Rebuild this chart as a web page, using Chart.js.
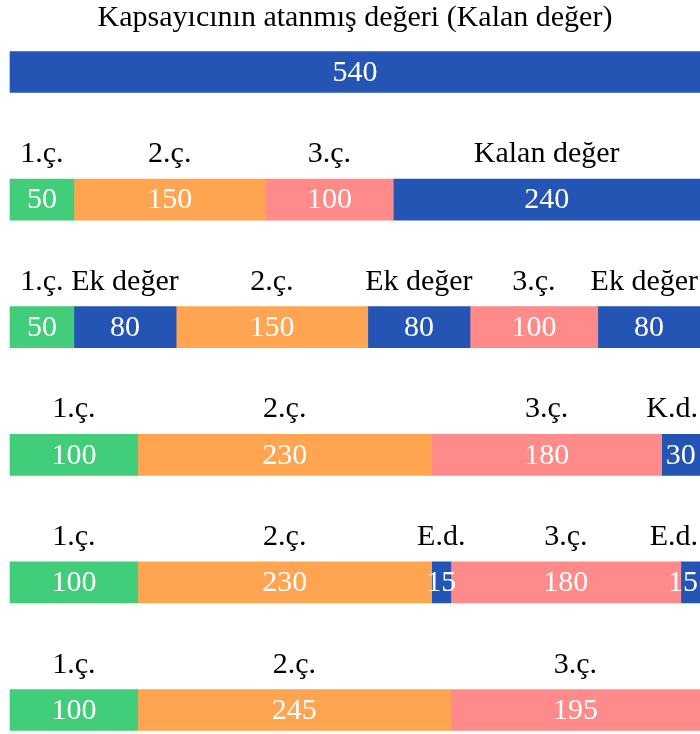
<!DOCTYPE html>
<html>
<head>
<meta charset="utf-8">
<script src="https://cdn.jsdelivr.net/npm/chart.js@4/dist/chart.umd.min.js"></script>
<style>
  html, body { margin: 0; padding: 0; background: #fff; }
  #wrap { width: 700px; height: 734px; }
</style>
</head>
<body>
<div id="wrap"><canvas id="alloc-chart"></canvas></div>
<script>
// Rows of the allocation, top to bottom; every row adds up to 540
const rowIds = ['r1', 'r2', 'r3', 'r4', 'r5', 'r6'];

const row1Values = [540];
const row2Values = [50, 150, 100, 240];
const row3Values = [50, 80, 150, 80, 100, 80];
const row4Values = [100, 230, 180, 30];
const row5Values = [100, 230, 15, 180, 15];
const row6Values = [100, 245, 195];

const row1Names = [''];
const row2Names = ['1.ç.', '2.ç.', '3.ç.', 'Kalan değer'];
const row3Names = ['1.ç.', 'Ek değer', '2.ç.', 'Ek değer', '3.ç.', 'Ek değer'];
const row4Names = ['1.ç.', '2.ç.', '3.ç.', 'K.d.'];
const row5Names = ['1.ç.', '2.ç.', 'E.d.', '3.ç.', 'E.d.'];
const row6Names = ['1.ç.', '2.ç.', '3.ç.'];

const titleText = 'Kapsayıcının atanmış değeri (Kalan değer)';
const totalValue = 540;

const FONT = "'Liberation Serif', 'Times New Roman', serif";
const COLORS = {
    first: '#41cd7a',
    second: '#ffa552',
    third: '#ff8a8a',
    rest: '#2454b4'
};

const allValues = [row1Values, row2Values, row3Values, row4Values, row5Values, row6Values];
const allNames = [row1Names, row2Names, row3Names, row4Names, row5Names, row6Names];

function segmentColor(name) {
    if (name.startsWith('1.')) return COLORS.first;
    if (name.startsWith('2.')) return COLORS.second;
    if (name.startsWith('3.')) return COLORS.third;
    return COLORS.rest;
}

// One dataset per segment position, stacked along each row
const maxSegments = Math.max(...allValues.map(r => r.length));
const datasets = [];
for (let s = 0; s < maxSegments; s++) {
    datasets.push({
        data: allValues.map(r => (s < r.length ? r[s] : null)),
        names: allNames.map(r => (s < r.length ? r[s] : null)),
        backgroundColor: allNames.map(r => (s < r.length ? segmentColor(r[s]) : 'transparent')),
        borderWidth: 0,
        barThickness: 41,
        clip: false
    });
}

/**
 * Draw the value inside each segment and its name above it
 */
const segmentLabels = {
    id: 'segmentLabels',
    afterDatasetsDraw(chart) {
        const ctx = chart.ctx;
        const maxX = chart.width - 2;
        ctx.save();
        ctx.textAlign = 'center';
        chart.data.datasets.forEach((ds, i) => {
            const meta = chart.getDatasetMeta(i);
            meta.data.forEach((bar, j) => {
                const value = ds.data[j];
                if (value === null) return;
                const props = bar.getProps(['x', 'y', 'base', 'height'], true);
                const cx = (props.x + props.base) / 2;

                ctx.font = '30px ' + FONT;
                ctx.fillStyle = '#ffffff';
                ctx.textBaseline = 'middle';
                const vText = String(value);
                const vw = ctx.measureText(vText).width;
                ctx.fillText(vText, Math.min(cx, maxX - vw / 2), props.y + 1);

                const name = ds.names[j];
                if (name) {
                    ctx.fillStyle = '#000000';
                    ctx.textBaseline = 'alphabetic';
                    const nw = ctx.measureText(name).width;
                    ctx.fillText(name, Math.min(cx, maxX - nw / 2), props.y - props.height / 2 - 17);
                }
            });
        });
        ctx.restore();
    }
};

new Chart(document.getElementById('alloc-chart'), {
    type: 'bar',
    data: { labels: rowIds, datasets: datasets },
    options: {
        indexAxis: 'y',
        responsive: true,
        maintainAspectRatio: false,
        animation: false,
        layout: { padding: { left: 10, right: 0, top: 0, bottom: 24 } },
        scales: {
            x: { stacked: true, min: 0, max: totalValue, display: false },
            y: { stacked: true, display: false, offset: false, grid: { display: false } }
        },
        plugins: {
            legend: { display: false },
            tooltip: { enabled: false },
            title: {
                display: true,
                text: titleText,
                color: '#000000',
                font: { family: FONT, size: 30, weight: 'normal' },
                padding: { top: 0, bottom: 36 }
            }
        }
    },
    plugins: [segmentLabels]
});
</script>
</body>
</html>
